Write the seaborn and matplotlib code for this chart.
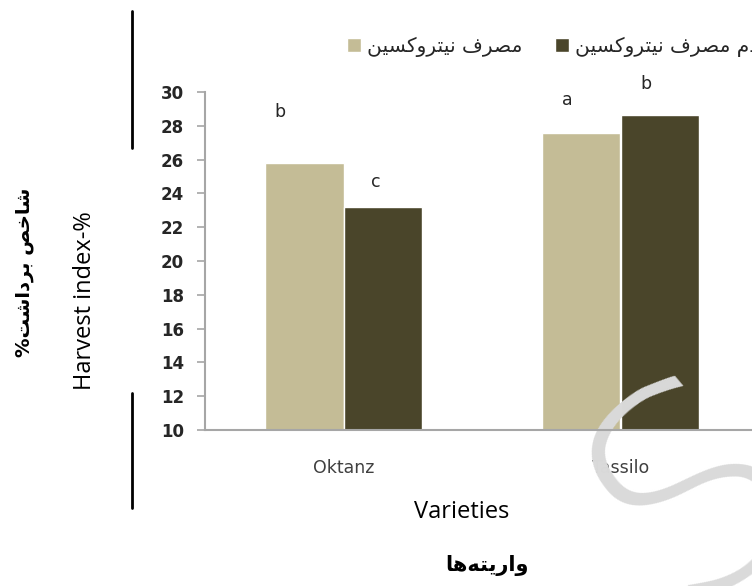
import matplotlib
matplotlib.use('Agg')
import matplotlib.pyplot as plt
import matplotlib.patches as mpatches
from matplotlib.lines import Line2D
import seaborn as sns
import pandas as pd

# ---- data ----
varieties = ['Oktanz', 'Tassilo']
treatments = ['مصرف نیتروکسین', 'عدم مصرف نیتروکسین']
harvest_index = {
    'مصرف نیتروکسین': [25.8, 27.55],
    'عدم مصرف نیتروکسین': [23.2, 28.65],
}
letters = {
    'مصرف نیتروکسین': ['b', 'a'],
    'عدم مصرف نیتروکسین': ['c', 'b'],
}
colors = ['#C4BC96', '#4A452A']

# letter placement (pixels: dx, dy above bar top)
letter_offsets = {
    'مصرف نیتروکسین': [(-24, 51), (-14, 33)],
    'عدم مصرف نیتروکسین': [(-7, 25), (-14, 31)],
}

# joining forms: isolated, final, initial, medial
FORMS = {
    'ا': '\uFE8D\uFE8E', 'ب': '\uFE8F\uFE90\uFE91\uFE92', 'ت': '\uFE95\uFE96\uFE97\uFE98',
    'خ': '\uFEA5\uFEA6\uFEA7\uFEA8', 'د': '\uFEA9\uFEAA', 'ر': '\uFEAD\uFEAE',
    'س': '\uFEB1\uFEB2\uFEB3\uFEB4', 'ش': '\uFEB5\uFEB6\uFEB7\uFEB8', 'ص': '\uFEB9\uFEBA\uFEBB\uFEBC',
    'ع': '\uFEC9\uFECA\uFECB\uFECC', 'ف': '\uFED1\uFED2\uFED3\uFED4', 'م': '\uFEE1\uFEE2\uFEE3\uFEE4',
    'ن': '\uFEE5\uFEE6\uFEE7\uFEE8', 'ه': '\uFEE9\uFEEA\uFEEB\uFEEC', 'و': '\uFEED\uFEEE',
    'ک': '\uFB8E\uFB8F\uFB90\uFB91', 'ی': '\uFBFC\uFBFD\uFBFE\uFBFF',
}


def fa(text):
    out = []
    for i, ch in enumerate(text):
        if ch not in FORMS:
            if ch != '\u200c':
                out.append(ch)
            continue
        prev = text[i - 1] if i > 0 else ''
        nxt = text[i + 1] if i + 1 < len(text) else ''
        join_prev = prev in FORMS and len(FORMS[prev]) == 4
        join_next = nxt in FORMS and len(FORMS[ch]) == 4
        f = FORMS[ch]
        if join_prev and join_next:
            out.append(f[3])
        elif join_prev:
            out.append(f[1])
        elif join_next:
            out.append(f[2])
        else:
            out.append(f[0])
    return ''.join(reversed(out))


def main():
    sns.set_style('white')
    plt.rcParams['font.family'] = ['DejaVu Sans']

    rows = []
    for t in treatments:
        for v, val in zip(varieties, harvest_index[t]):
            rows.append({'variety': v, 'treatment': t, 'value': val})
    df = pd.DataFrame(rows)

    W, H = 752, 586
    fig = plt.figure(figsize=(W / 100, H / 100), dpi=100)
    ax = fig.add_axes([205 / W, 1 - 430 / H, 554 / W, 338 / H])

    sns.barplot(data=df, x='variety', y='value', hue='treatment', hue_order=treatments,
                palette=colors, width=0.57, edgecolor='white', linewidth=1.0,
                saturation=1, legend=False, ax=ax)

    ax.set_xlim(-0.5, 1.5)
    ax.set_ylim(10, 30)
    ax.set_yticks(range(10, 31, 2))
    ax.set_xlabel('')
    ax.set_ylabel('')
    grey = '#A6A6A6'
    for s in ['top', 'right']:
        ax.spines[s].set_visible(False)
    for s in ['left', 'bottom']:
        ax.spines[s].set_color(grey)
        ax.spines[s].set_linewidth(1.5)
    ax.tick_params(axis='y', direction='out', length=6, width=1.2, color=grey, pad=9,
                   labelsize=12, labelcolor='#262626', left=True)
    for lab in ax.get_yticklabels():
        lab.set_fontweight('bold')
    ax.set_xticks([-0.5, 0.5, 1.5], minor=True)
    ax.tick_params(axis='x', which='minor', direction='out', length=7, width=1.2, color=grey)
    ax.tick_params(axis='x', which='major', length=0, pad=21, labelsize=12.5, labelcolor='#404040')

    # significance letters
    for k, t in enumerate(treatments):
        for i, v in enumerate(varieties):
            bar = ax.containers[k][i]
            cx = bar.get_x() + bar.get_width() / 2
            dx, dy = letter_offsets[t][i]
            ax.annotate(letters[t][i], (cx, bar.get_height()), xytext=(dx * 0.72, dy * 0.72),
                        textcoords='offset points', ha='center', va='center',
                        fontsize=12.5, color='#262626', annotation_clip=False)

    # legend
    handles = [mpatches.Patch(facecolor=c, edgecolor='white') for c in colors]
    fig.legend(handles, [fa(t) for t in treatments], loc='center left',
               bbox_to_anchor=(329 / W, 1 - 47 / H), ncol=2, frameon=False,
               handlelength=0.7, handleheight=0.7, handletextpad=0.3,
               columnspacing=1.6, fontsize=14.5)

    # axis titles
    fig.text(85 / W, 1 - 301 / H, 'Harvest index-%', rotation=90, ha='center', va='center',
             family='Open Sans', fontsize=17, color='black')
    fig.text(25 / W, 1 - 272 / H, fa('شاخص برداشت%'), rotation=90, ha='center', va='center',
             fontsize=14, fontweight='bold', color='black')
    fig.text(462 / W, 1 - 512 / H, 'Varieties', ha='center', va='center',
             family='Open Sans', fontsize=17, color='black')
    fig.text(487 / W, 1 - 565 / H, fa('واریته\u200cها'), ha='center', va='center',
             fontsize=15, fontweight='bold', color='black')

    # table border fragments on the left
    for y0, y1 in [(11, 148), (393, 508)]:
        fig.add_artist(Line2D([132 / W, 132 / W], [1 - y0 / H, 1 - y1 / H],
                              color='black', linewidth=2, transform=fig.transFigure))

    # faint watermark, kept under the tick labels
    ax.text(700 / W, 1 - 490 / H, 'S', rotation=40, ha='center', va='center',
            fontsize=205, fontweight='ultralight', color='#DADADA',
            transform=fig.transFigure, clip_on=False, zorder=2)

    fig.savefig('out.png', dpi=100)
    plt.close()


if __name__ == '__main__':
    main()
